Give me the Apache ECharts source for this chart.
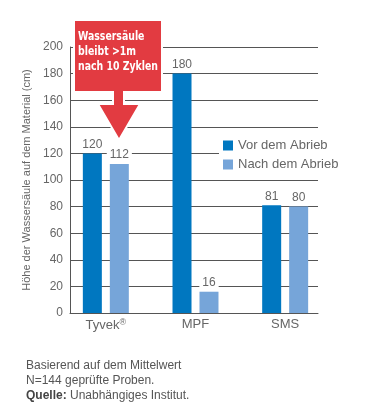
<!DOCTYPE html>
<html>
<head>
<meta charset="utf-8">
<script src="https://cdn.jsdelivr.net/npm/echarts@6/dist/echarts.min.js"></script>
<style>
  html, body { margin: 0; padding: 0; background: #fff; }
  #chart { width: 376px; height: 414px; }
</style>
</head>
<body>
<div id="chart"></div>
<script>
// Daten
var categories = ['Tyvek', 'MPF', 'SMS'];
var vorAbrieb = [120, 180, 81];
var nachAbrieb = [112, 16, 80];
var seriesNames = ['Vor dem Abrieb', 'Nach dem Abrieb'];

var grey = '#666';
var lineGrey = '#555';

var myChart = echarts.init(document.getElementById('chart'));

var barLabel = {
	show: true,
	position: 'top',
	distance: 2,
	color: grey,
	fontSize: 12,
	fontFamily: 'Liberation Sans',
	backgroundColor: '#fff',
	padding: [1, 3]
};

var option = {
	animation: false,
	textStyle: { fontFamily: 'Liberation Sans' },
	grid: [
		//  Balken
		{ left: 61, right: 46, top: 47, bottom: 101 },
		//  Achsen / Gitter
		{ left: 70, right: 58, top: 47, bottom: 101 }
	],
	xAxis: [
		{
			type: 'category', gridIndex: 0, data: categories,
			axisLine: { show: false }, axisTick: { show: false },
			axisLabel: {
				color: grey, fontSize: 13, margin: 5, interval: 0,
				formatter: function (v) { return v == 'Tyvek' ? 'Tyvek{sup|®}' : v; },
				rich: { sup: { fontSize: 9, color: grey, padding: [0, 0, 6, 0] } }
			}
		},
		{
			type: 'value', gridIndex: 1, min: 0, max: 1,
			axisLine: { show: true, onZero: false, lineStyle: { color: lineGrey } },
			axisTick: { show: false }, axisLabel: { show: false }, splitLine: { show: false }
		}
	],
	yAxis: [
		{ type: 'value', gridIndex: 0, min: 0, max: 200, interval: 20, show: false },
		{
			type: 'value', gridIndex: 1, min: 0, max: 200, interval: 20,
			name: 'Höhe der Wassersäule auf dem Material (cm)',
			nameLocation: 'middle', nameGap: 37,
			nameTextStyle: { color: grey, fontSize: 11 },
			axisLine: { show: true, lineStyle: { color: lineGrey } },
			axisTick: { show: false },
			axisLabel: { color: grey, fontSize: 12, margin: 7 },
			splitLine: { lineStyle: { color: lineGrey } }
		}
	],
	legend: {
		data: seriesNames,
		orient: 'vertical',
		left: 219, top: 136,
		icon: 'rect', itemWidth: 10, itemHeight: 10, itemGap: 6,
		backgroundColor: '#fff',
		padding: [3, 4],
		textStyle: { color: grey, fontSize: 13 }
	},
	series: [
		{
			name: seriesNames[0], type: 'bar', xAxisIndex: 0, yAxisIndex: 0,
			data: vorAbrieb, barWidth: 19, barGap: '42%',
			itemStyle: { color: '#0077C0' }, label: barLabel
		},
		{
			name: seriesNames[1], type: 'bar', xAxisIndex: 0, yAxisIndex: 0,
			data: nachAbrieb, barWidth: 19,
			itemStyle: { color: '#76A5D9' }, label: barLabel
		}
	],
	title: {
		left: 21, top: 353,
		text: 'Basierend auf dem Mittelwert\nN=144 geprüfte Proben.\n{b|Quelle:} Unabhängiges Institut.',
		textStyle: {
			color: '#555', fontSize: 12, fontWeight: 'normal', lineHeight: 15,
			rich: { b: { fontWeight: 'bold', color: '#444', fontSize: 12, lineHeight: 15 } }
		}
	},
	graphic: [
		//  Hinweis-Pfeil
		{
			type: 'polygon', z: 100,
			shape: { points: [[74, 20], [162, 20], [162, 92], [124, 92], [124, 104], [140, 104],
				[119, 140], [98, 104], [113, 104], [113, 92], [74, 92]] },
			style: { fill: '#E23B41', stroke: '#fff', lineWidth: 2 }
		},
		{
			type: 'text', z: 101, x: 78, y: 29, scaleX: 0.8,
			style: {
				text: 'Wassersäule\nbleibt >1m\nnach 10 Zyklen',
				fill: '#fff', font: 'bold 13px "DejaVu Sans Condensed"', lineHeight: 15
			}
		}
	]
};

myChart.setOption(option);
</script>
</body>
</html>
